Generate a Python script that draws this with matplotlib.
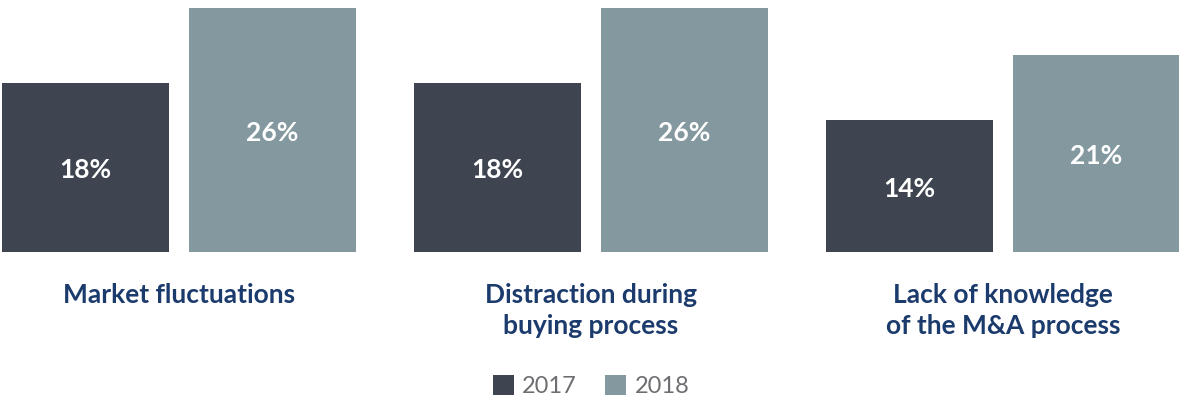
import matplotlib.pyplot as plt

categories = ['Market fluctuations', 'Distraction during\nbuying process',
              'Lack of knowledge\nof the M&A process']
years = ['2017', '2018']
vals_2017 = [18, 18, 14]
vals_2018 = [26, 26, 21]

c_2017 = '#3e4550'
c_2018 = '#83989f'
navy = '#1c3b6d'

W, H = 1179, 401
fig = plt.figure(figsize=(W / 100, H / 100), dpi=100)

# bar area: baseline ~252 px from the top, 9.37 px per percent point
base_px = 251.5
px_per_pct = 9.37
ax = fig.add_axes([0, (H - base_px) / H, 1, base_px / H])
ax.set_xlim(0, W)
ax.set_ylim(0, base_px / px_per_pct)
ax.axis('off')

bw = 167
step = 412
gap = 20
x0 = [85.5 + i * step for i in range(len(categories))]
x1 = [x + bw + gap for x in x0]

b1 = ax.bar(x0, vals_2017, width=bw, color=c_2017)
b2 = ax.bar(x1, vals_2018, width=bw, color=c_2018)

for bars, vals in [(b1, vals_2017), (b2, vals_2018)]:
    for b, v in zip(bars, vals):
        ax.text(b.get_x() + b.get_width() / 2, v / 2 - 0.3, f'{v}%',
                ha='center', va='center', color='white',
                fontsize=19, fontweight='bold', family='Lato')

# category names under each pair
for i, cat in enumerate(categories):
    cx = (x0[i] - bw / 2 + x1[i] + bw / 2) / 2
    fig.text(cx / W, 1 - 283 / H, cat, ha='center', va='top',
             color=navy, fontsize=19, fontweight='bold', family='Lato',
             linespacing=1.36)

# legend
leg = ax.legend([b1, b2], years, loc='center', bbox_to_anchor=(591 / W, 1 - 386 / H),
                bbox_transform=fig.transFigure, ncol=2, frameon=False,
                handlelength=0.9, handleheight=0.9, handletextpad=0.35,
                columnspacing=1.2, prop={'family': 'Lato', 'size': 17})
for t in leg.get_texts():
    t.set_color('#6d6e71')

fig.savefig('out.png', dpi=100)
